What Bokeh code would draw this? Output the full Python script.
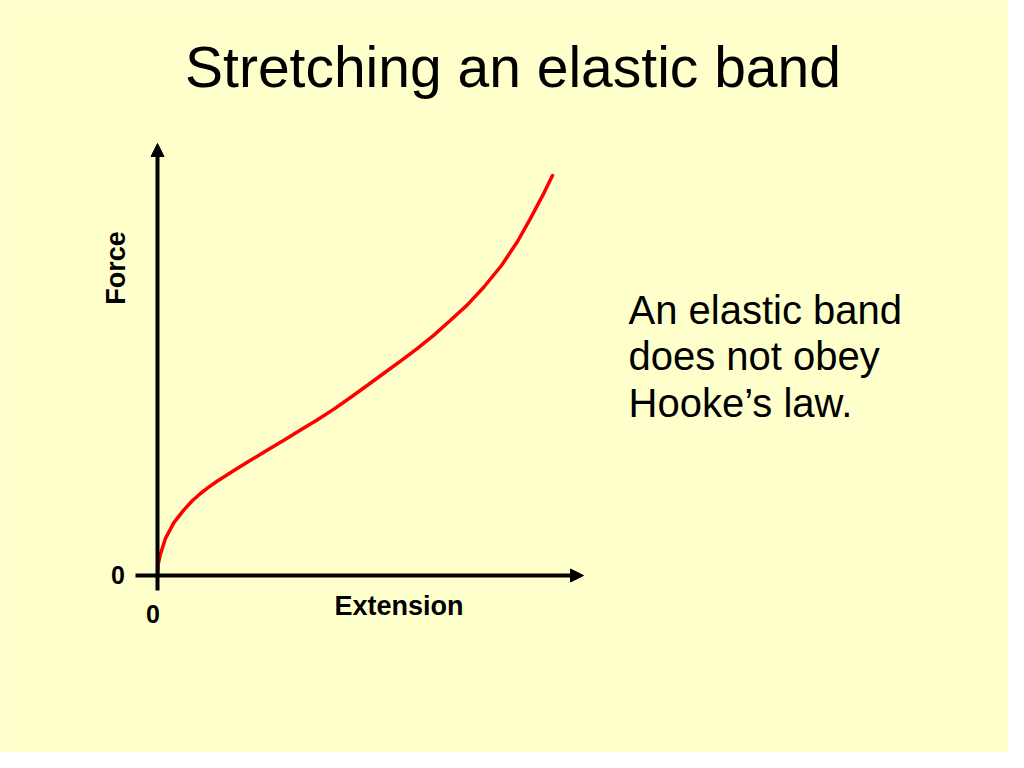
import math
from bokeh.plotting import figure
from bokeh.models import Range1d, Arrow, NormalHead, ColumnDataSource
from bokeh.core.properties import value
from bokeh.embed import file_html
from bokeh.resources import INLINE

# ---- data (arbitrary units, origin at 0,0) ----
extension = [0, 0.02, 0.075, 0.2, 0.41, 0.66, 0.87, 1.075, 1.28, 1.49, 1.91,
             2.325, 2.74, 3.16, 3.575, 3.99, 4.41, 4.825, 5.24, 5.65, 6.075,
             6.5, 6.91, 7.325, 7.74, 8.15, 8.6, 9.0, 9.325, 9.66, 9.875]
force = [0, 0.3, 0.54, 0.93, 1.32, 1.64, 1.87, 2.05, 2.21, 2.355, 2.625,
         2.88, 3.13, 3.38, 3.635, 3.89, 4.16, 4.45, 4.75, 5.05, 5.36,
         5.68, 6.01, 6.38, 6.76, 7.2, 7.75, 8.35, 8.93, 9.56, 10.0]

title_text = "Stretching an elastic band"
x_label = "Extension"
y_label = "Force"
zero_label = "0"
note_lines = ["An elastic band", "does not obey", "Hooke\u2019s law."]

BG = "#FFFFCC"
FONT = "Liberation Sans"

p = figure(width=1008, height=752, output_backend="svg", toolbar_location=None,
           x_axis_type=None, y_axis_type=None, min_border=0,
           x_range=Range1d(-3.925, 21.275), y_range=Range1d(-4.425, 14.375))
p.grid.visible = False
p.outline_line_color = None
p.background_fill_color = BG
p.border_fill_color = BG

# axes with arrow heads
p.add_layout(Arrow(end=NormalHead(size=13, fill_color="black", line_color="black"),
                   x_start=-0.55, y_start=0, x_end=10.65, y_end=0,
                   line_width=4, line_color="black"))
p.add_layout(Arrow(end=NormalHead(size=13, fill_color="black", line_color="black"),
                   x_start=0, y_start=-0.375, x_end=0, y_end=10.8,
                   line_width=4, line_color="black"))

# curve
src = ColumnDataSource(dict(x=extension, y=force))
p.line("x", "y", source=src, line_color="#FF0000", line_width=3.5,
       line_join="round", line_cap="round")

# title
p.text(x=[8.8875], y=[12.725], text=[title_text], text_font=value(FONT),
       text_font_size="57px", text_align="center", text_baseline="alphabetic",
       text_color="black")

# axis labels
p.text(x=[6.0375], y=[-0.75], text=[x_label], text_font=value(FONT),
       text_font_style="bold", text_font_size="27px", text_align="center",
       text_baseline="alphabetic", text_color="black")
p.text(x=[-1.05], y=[7.6875], text=[y_label], text_font=value(FONT),
       text_font_style="bold", text_font_size="27px", text_align="center",
       text_baseline="middle", angle=math.pi / 2, text_color="black")
p.text(x=[-0.99, -0.1125], y=[0.025, -0.965], text=[zero_label, zero_label],
       text_font=value(FONT), text_font_style="bold", text_font_size="25px",
       text_align="center", text_baseline="alphabetic", text_color="black")

# note
p.text(x=[11.775] * 3, y=[6.65, 5.5, 4.325], text=note_lines,
       text_font=value(FONT), text_font_size="40px", text_align="left",
       text_baseline="alphabetic", text_color="black")

open("out.html", "w").write(file_html(p, INLINE))
